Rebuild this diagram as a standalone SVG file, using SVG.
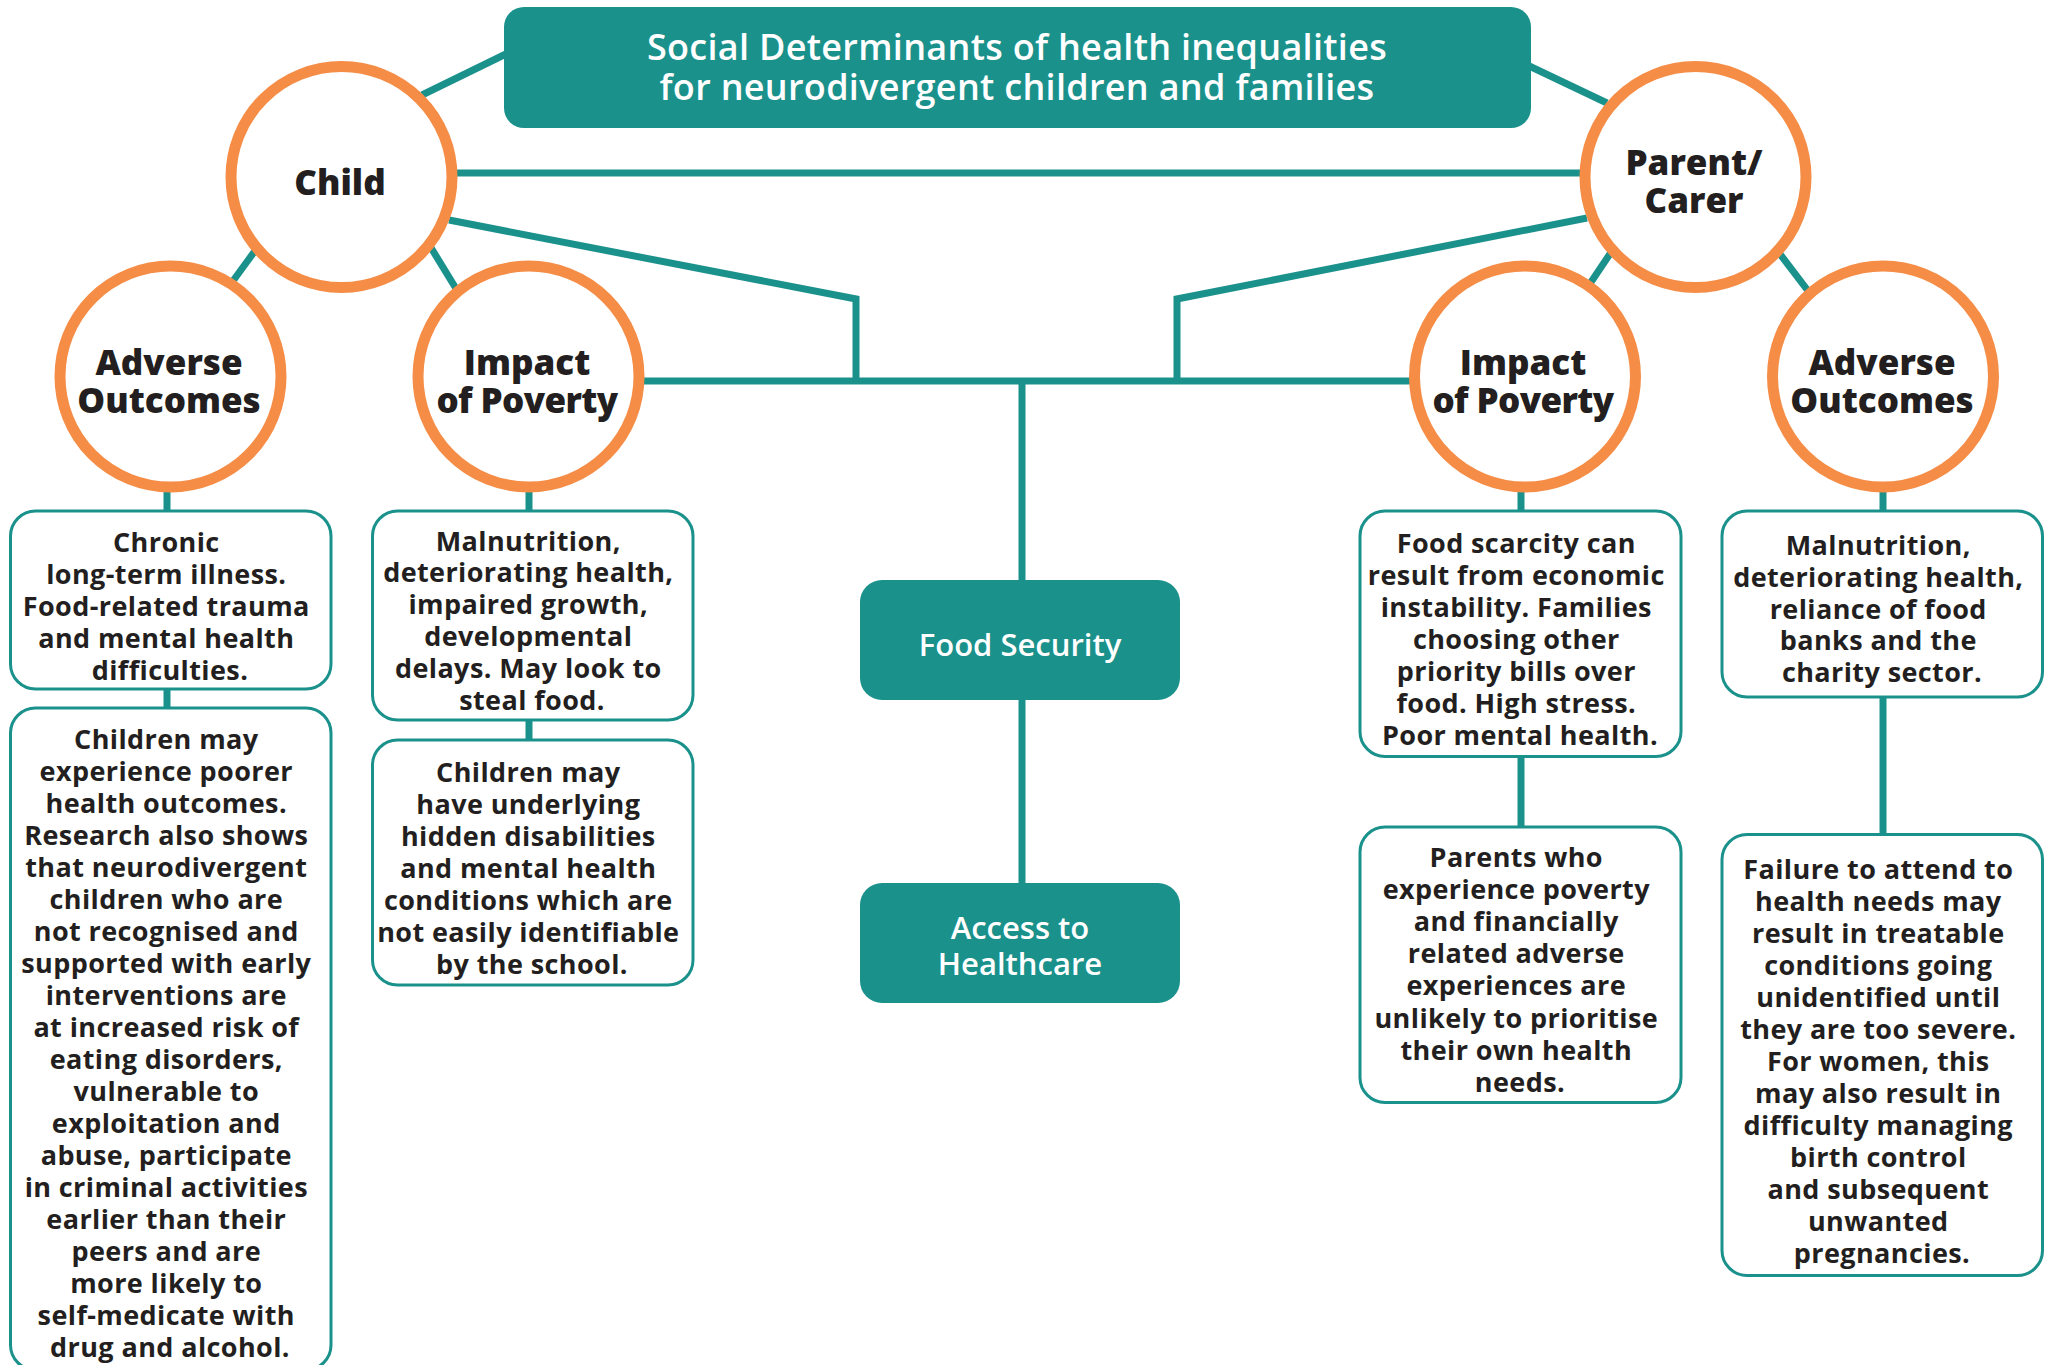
<svg xmlns="http://www.w3.org/2000/svg" width="2051" height="1365" viewBox="0 0 2051 1365">
  <defs>
    <style>
      .bg { fill: #ffffff; }
      .link { stroke: #1b918c; stroke-width: 7; fill: none; stroke-linecap: butt; stroke-linejoin: miter; }
      .hub { fill: #1b918c; }
      .hub-text { fill: #ffffff; font-family: "Open Sans", "Liberation Sans", sans-serif; font-weight: 600; text-anchor: middle; }
      .circle { fill: #ffffff; stroke: #f58d47; stroke-width: 11; }
      .circle-text { fill: #231f20; font-family: "Open Sans", "Liberation Sans", sans-serif; font-weight: 800; font-size: 35px; text-anchor: middle; }
      .tight { letter-spacing: -0.6px; }
      .card { fill: #ffffff; stroke: #1b918c; stroke-width: 3; }
      .card-text { fill: #231f20; font-family: "Open Sans", "Liberation Sans", sans-serif; font-weight: 700; font-size: 27px; letter-spacing: 0.4px; text-anchor: middle; }
    </style>
  </defs>

  <rect class="bg" x="0" y="0" width="2051" height="1365"/>

  <!-- connectors -->
  <g id="connectors">
    <line class="link" x1="422" y1="95" x2="510" y2="52"/>
    <line class="link" x1="1525" y1="64" x2="1607" y2="103"/>
    <line class="link" x1="341" y1="173" x2="1695" y2="173"/>
    <polyline class="link" points="449,220 856,299 856,381"/>
    <polyline class="link" points="1587,218 1177,299 1177,381"/>
    <line class="link" x1="528" y1="381" x2="1525" y2="381"/>
    <line class="link" x1="1022" y1="381" x2="1022" y2="900"/>
    <line class="link" x1="268" y1="233" x2="222" y2="296"/>
    <line class="link" x1="422" y1="233" x2="463" y2="300"/>
    <line class="link" x1="1624" y1="233" x2="1579" y2="300"/>
    <line class="link" x1="1764" y1="233" x2="1815" y2="300"/>
    <line class="link" x1="167" y1="470" x2="167" y2="720"/>
    <line class="link" x1="529" y1="470" x2="529" y2="750"/>
    <line class="link" x1="1521" y1="470" x2="1521" y2="840"/>
    <line class="link" x1="1883" y1="470" x2="1883" y2="840"/>
  </g>

  <!-- title -->
  <g id="title">
    <rect class="hub" x="504" y="7" width="1027" height="121" rx="20"/>
    <text class="hub-text" x="1017" y="60" font-size="36" letter-spacing="0.3">Social Determinants of health inequalities</text>
    <text class="hub-text" x="1017" y="100" font-size="36" letter-spacing="0.3">for neurodivergent children and families</text>
  </g>

  <!-- circles -->
  <g id="child">
    <circle class="circle" cx="341.5" cy="177" r="110.5"/>
    <text class="circle-text" x="340" y="195">Child</text>
  </g>
  <g id="parent-carer">
    <circle class="circle" cx="1695.5" cy="177" r="110.5"/>
    <text class="circle-text" x="1694" y="175">Parent/</text>
    <text class="circle-text" x="1694" y="213">Carer</text>
  </g>
  <g id="child-adverse-outcomes">
    <circle class="circle" cx="170.5" cy="376.5" r="110.5"/>
    <text class="circle-text" x="169" y="375">Adverse</text>
    <text class="circle-text" x="169" y="413">Outcomes</text>
  </g>
  <g id="child-impact-of-poverty">
    <circle class="circle" cx="528.5" cy="376.5" r="110.5"/>
    <text class="circle-text" x="527" y="375">Impact</text>
    <text class="circle-text tight" x="527" y="413">of Poverty</text>
  </g>
  <g id="parent-impact-of-poverty">
    <circle class="circle" cx="1525" cy="376.5" r="110.5"/>
    <text class="circle-text" x="1523" y="375">Impact</text>
    <text class="circle-text tight" x="1523" y="413">of Poverty</text>
  </g>
  <g id="parent-adverse-outcomes">
    <circle class="circle" cx="1883" cy="376.5" r="110.5"/>
    <text class="circle-text" x="1882" y="375">Adverse</text>
    <text class="circle-text" x="1882" y="413">Outcomes</text>
  </g>

  <!-- central hubs -->
  <g id="food-security">
    <rect class="hub" x="860" y="580" width="320" height="120" rx="22"/>
    <text class="hub-text" x="1020" y="656" font-size="31" font-weight="700">Food Security</text>
  </g>
  <g id="access-to-healthcare">
    <rect class="hub" x="860" y="883" width="320" height="120" rx="22"/>
    <text class="hub-text" x="1020" y="939" font-size="31" font-weight="700">Access to</text>
    <text class="hub-text" x="1020" y="975" font-size="31" font-weight="700">Healthcare</text>
  </g>

  <!-- child: adverse outcomes cards -->
  <g id="child-outcomes-card-1">
    <rect class="card" x="10.5" y="511" width="320.5" height="178" rx="25"/>
    <text class="card-text">
      <tspan x="170" y="551.5">Chronic</tspan>
      <tspan x="170" y="583.7">long-term illness.</tspan>
      <tspan x="170" y="615.9">Food-related trauma</tspan>
      <tspan x="170" y="648.1">and mental health</tspan>
      <tspan x="170" y="680.3">difficulties.</tspan>
    </text>
  </g>
  <g id="child-outcomes-card-2">
    <rect class="card" x="10.5" y="708" width="320.5" height="662" rx="25"/>
    <text class="card-text">
      <tspan x="170" y="749">Children may</tspan>
      <tspan x="170" y="781">experience poorer</tspan>
      <tspan x="170" y="813">health outcomes.</tspan>
      <tspan x="170" y="845">Research also shows</tspan>
      <tspan x="170" y="877">that neurodivergent</tspan>
      <tspan x="170" y="909">children who are</tspan>
      <tspan x="170" y="941">not recognised and</tspan>
      <tspan x="170" y="973">supported with early</tspan>
      <tspan x="170" y="1005">interventions are</tspan>
      <tspan x="170" y="1037">at increased risk of</tspan>
      <tspan x="170" y="1069">eating disorders,</tspan>
      <tspan x="170" y="1101">vulnerable to</tspan>
      <tspan x="170" y="1133">exploitation and</tspan>
      <tspan x="170" y="1165">abuse, participate</tspan>
      <tspan x="170" y="1197">in criminal activities</tspan>
      <tspan x="170" y="1229">earlier than their</tspan>
      <tspan x="170" y="1261">peers and are</tspan>
      <tspan x="170" y="1293">more likely to</tspan>
      <tspan x="170" y="1325">self-medicate with</tspan>
      <tspan x="170" y="1357">drug and alcohol.</tspan>
    </text>
  </g>

  <!-- child: impact of poverty cards -->
  <g id="child-poverty-card-1">
    <rect class="card" x="372.5" y="511" width="320.5" height="209" rx="25"/>
    <text class="card-text">
      <tspan x="532" y="550.5">Malnutrition,</tspan>
      <tspan x="532" y="582.4">deteriorating health,</tspan>
      <tspan x="532" y="614.3">impaired growth,</tspan>
      <tspan x="532" y="646.2">developmental</tspan>
      <tspan x="532" y="678.1">delays. May look to</tspan>
      <tspan x="532" y="710">steal food.</tspan>
    </text>
  </g>
  <g id="child-poverty-card-2">
    <rect class="card" x="372.5" y="740" width="320.5" height="245" rx="25"/>
    <text class="card-text">
      <tspan x="532" y="782">Children may</tspan>
      <tspan x="532" y="814">have underlying</tspan>
      <tspan x="532" y="846">hidden disabilities</tspan>
      <tspan x="532" y="878">and mental health</tspan>
      <tspan x="532" y="910">conditions which are</tspan>
      <tspan x="532" y="942">not easily identifiable</tspan>
      <tspan x="532" y="974">by the school.</tspan>
    </text>
  </g>

  <!-- parent/carer: impact of poverty cards -->
  <g id="parent-poverty-card-1">
    <rect class="card" x="1360" y="511" width="321" height="245.5" rx="25"/>
    <text class="card-text">
      <tspan x="1520" y="553.4">Food scarcity can</tspan>
      <tspan x="1520" y="585.4">result from economic</tspan>
      <tspan x="1520" y="617.4">instability. Families</tspan>
      <tspan x="1520" y="649.4">choosing other</tspan>
      <tspan x="1520" y="681.4">priority bills over</tspan>
      <tspan x="1520" y="713.4">food. High stress.</tspan>
      <tspan x="1520" y="745.4">Poor mental health.</tspan>
    </text>
  </g>
  <g id="parent-poverty-card-2">
    <rect class="card" x="1360" y="827" width="321" height="275.5" rx="25"/>
    <text class="card-text">
      <tspan x="1520" y="866.6">Parents who</tspan>
      <tspan x="1520" y="898.8">experience poverty</tspan>
      <tspan x="1520" y="931">and financially</tspan>
      <tspan x="1520" y="963.2">related adverse</tspan>
      <tspan x="1520" y="995.4">experiences are</tspan>
      <tspan x="1520" y="1027.6">unlikely to prioritise</tspan>
      <tspan x="1520" y="1059.8">their own health</tspan>
      <tspan x="1520" y="1092">needs.</tspan>
    </text>
  </g>

  <!-- parent/carer: adverse outcomes cards -->
  <g id="parent-outcomes-card-1">
    <rect class="card" x="1722" y="511" width="320.5" height="186" rx="25"/>
    <text class="card-text">
      <tspan x="1882" y="555">Malnutrition,</tspan>
      <tspan x="1882" y="586.8">deteriorating health,</tspan>
      <tspan x="1882" y="618.5">reliance of food</tspan>
      <tspan x="1882" y="650.3">banks and the</tspan>
      <tspan x="1882" y="682">charity sector.</tspan>
    </text>
  </g>
  <g id="parent-outcomes-card-2">
    <rect class="card" x="1722" y="834.5" width="320.5" height="441" rx="25"/>
    <text class="card-text">
      <tspan x="1882" y="879">Failure to attend to</tspan>
      <tspan x="1882" y="911">health needs may</tspan>
      <tspan x="1882" y="943">result in treatable</tspan>
      <tspan x="1882" y="975">conditions going</tspan>
      <tspan x="1882" y="1007">unidentified until</tspan>
      <tspan x="1882" y="1039">they are too severe.</tspan>
      <tspan x="1882" y="1071">For women, this</tspan>
      <tspan x="1882" y="1103">may also result in</tspan>
      <tspan x="1882" y="1135">difficulty managing</tspan>
      <tspan x="1882" y="1167">birth control</tspan>
      <tspan x="1882" y="1199">and subsequent</tspan>
      <tspan x="1882" y="1231">unwanted</tspan>
      <tspan x="1882" y="1263">pregnancies.</tspan>
    </text>
  </g>
</svg>
